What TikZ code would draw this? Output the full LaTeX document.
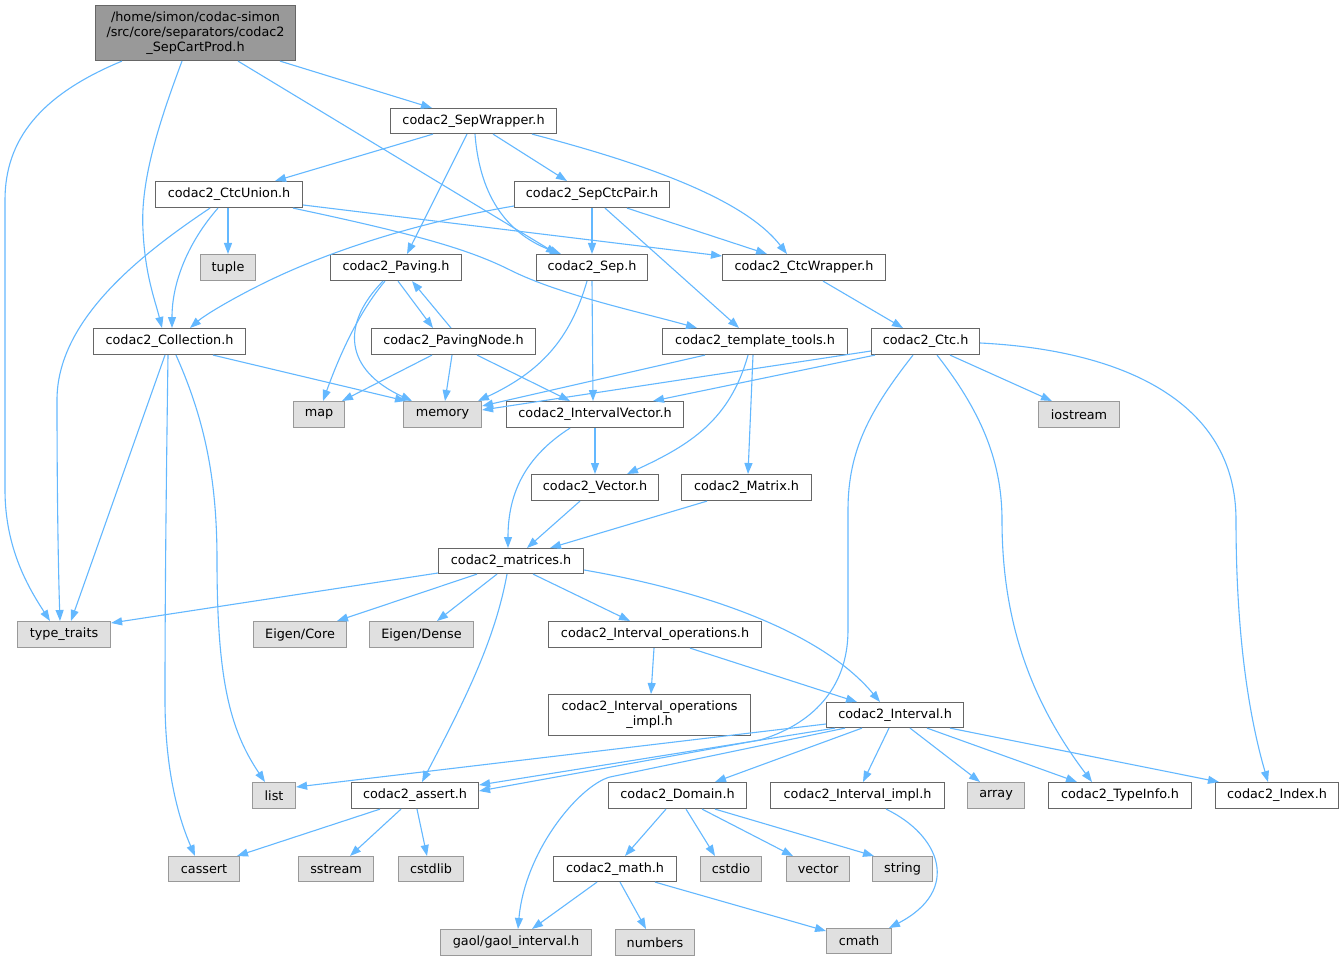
\documentclass[tikz,border=0pt]{standalone}
\usepackage{fontspec}
\setmainfont{DejaVu Sans}
\usetikzlibrary{arrows.meta}
\definecolor{edgec}{HTML}{63B8FF}
\definecolor{bord}{HTML}{666666}
\definecolor{gbord}{HTML}{999999}
\definecolor{gfill}{HTML}{E0E0E0}
\definecolor{rootfill}{HTML}{999999}
\begin{document}
\begin{tikzpicture}[x=1pt,y=-1pt,
  hdr/.style={draw=bord, fill=white, line width=1.1pt, inner sep=0pt, anchor=north west,
    minimum height=26pt, font=\fontsize{12.8}{15}\selectfont, text=black, align=center},
  sys/.style={hdr, draw=gbord, fill=gfill},
  rootbox/.style={hdr, draw=bord, fill=rootfill},
  lnk/.style={draw=edgec, line width=1.1pt, -{Triangle[length=11pt,width=8pt]}}]
\useasboundingbox (0,0) rectangle (1344,960);
\fill[white] (0,0) rectangle (1344,960);
% nodes
\node[rootbox, minimum width=200pt, minimum height=55pt] (root) at (95,5) {/home/simon/codac-simon\\/src/core/separators/codac2\\\_SepCartProd.h};
\node[hdr, minimum width=166pt, minimum height=25pt] (sepwrap) at (390,108) {codac2\_SepWrapper.h};
\node[hdr, minimum width=147pt] (ctcunion) at (155,181) {codac2\_CtcUnion.h};
\node[sys, minimum width=55pt] (tuple) at (200,254) {tuple};
\node[hdr, minimum width=155pt] (sepctc) at (514,181) {codac2\_SepCtcPair.h};
\node[hdr, minimum width=131pt] (paving) at (330,254) {codac2\_Paving.h};
\node[hdr, minimum width=111pt] (sep) at (536,254) {codac2\_Sep.h};
\node[hdr, minimum width=163pt] (ctcwrap) at (722,254) {codac2\_CtcWrapper.h};
\node[hdr, minimum width=152pt] (coll) at (93,328) {codac2\_Collection.h};
\node[hdr, minimum width=164pt] (pnode) at (371,328) {codac2\_PavingNode.h};
\node[hdr, minimum width=185pt] (tmpl) at (662,328) {codac2\_template\_tools.h};
\node[hdr, minimum width=108pt] (ctc) at (871,328) {codac2\_Ctc.h};
\node[sys, minimum width=51pt] (map) at (293,401) {map};
\node[sys, minimum width=78pt] (memory) at (403,401) {memory};
\node[hdr, minimum width=177pt] (ivec) at (506,401) {codac2\_IntervalVector.h};
\node[sys, minimum width=81pt] (iostream) at (1038,401) {iostream};
\node[hdr, minimum width=127pt] (vector) at (531,474) {codac2\_Vector.h};
\node[hdr, minimum width=130pt] (matrix) at (681,474) {codac2\_Matrix.h};
\node[hdr, minimum width=145pt, minimum height=25pt] (matrices) at (438,548) {codac2\_matrices.h};
\node[sys, minimum width=93pt] (ttraits) at (17,621) {type\_traits};
\node[sys, minimum width=93pt] (ecore) at (253,621) {Eigen/Core};
\node[sys, minimum width=104pt] (edense) at (369,621) {Eigen/Dense};
\node[hdr, minimum width=213pt] (iops) at (548,621) {codac2\_Interval\_operations.h};
\node[hdr, minimum width=202pt, minimum height=41pt] (iopsimpl) at (548,694) {codac2\_Interval\_operations\\\_impl.h};
\node[hdr, minimum width=137pt, minimum height=25pt] (interval) at (826,702) {codac2\_Interval.h};
\node[sys, minimum width=43pt] (list) at (252,782) {list};
\node[hdr, minimum width=127pt] (assert) at (351,782) {codac2\_assert.h};
\node[hdr, minimum width=138pt] (domain) at (608,782) {codac2\_Domain.h};
\node[hdr, minimum width=174pt] (iimpl) at (770,782) {codac2\_Interval\_impl.h};
\node[sys, minimum width=57pt] (array) at (967,782) {array};
\node[hdr, minimum width=143pt] (typeinfo) at (1048,782) {codac2\_TypeInfo.h};
\node[hdr, minimum width=123pt] (index) at (1215,782) {codac2\_Index.h};
\node[sys, minimum width=71pt, minimum height=25pt] (cassert) at (168,856) {cassert};
\node[sys, minimum width=75pt, minimum height=25pt] (sstream) at (298,856) {sstream};
\node[sys, minimum width=65pt, minimum height=25pt] (cstdlib) at (398,856) {cstdlib};
\node[hdr, minimum width=123pt, minimum height=25pt] (math) at (553,856) {codac2\_math.h};
\node[sys, minimum width=61pt, minimum height=25pt] (cstdio) at (700,856) {cstdio};
\node[sys, minimum width=63pt, minimum height=25pt] (stdvector) at (786,856) {vector};
\node[sys, minimum width=60pt, minimum height=25pt] (string) at (872,856) {string};
\node[sys, minimum width=151pt] (gaol) at (440,929) {gaol/gaol\_interval.h};
\node[sys, minimum width=79pt] (numbers) at (615,929) {numbers};
\node[sys, minimum width=65pt, minimum height=25pt] (cmath) at (826,928) {cmath};
% edges
\draw[lnk] ([xshift=27pt]root.south west) .. controls (40,95) and (5,140) .. (5,200) -- (5,490) .. controls (5,550) and (30,590) .. ([xshift=33pt]ttraits.north west);
\draw[lnk] ([xshift=87pt]root.south west) .. controls (160,120) and (140,180) .. (143,230) .. controls (145,275) and (155,300) .. ([xshift=69pt]coll.north west);
\draw[lnk] ([xshift=143pt]root.south west) -- ([xshift=21pt]sep.north west);
\draw[lnk] ([xshift=185pt]root.south west) -- ([xshift=42pt]sepwrap.north west);
\draw[lnk] ([xshift=43pt]sepwrap.south west) -- ([xshift=120pt]ctcunion.north west);
\draw[lnk] ([xshift=77pt]sepwrap.south west) -- ([xshift=77pt]paving.north west);
\draw[lnk] ([xshift=85pt]sepwrap.south west) .. controls (480,200) and (510,235) .. ([xshift=25pt]sep.north west);
\draw[lnk] ([xshift=103pt]sepwrap.south west) -- ([xshift=53pt]sepctc.north west);
\draw[lnk] ([xshift=142pt]sepwrap.south west) .. controls (650,165) and (745,200) .. ([xshift=65pt]ctcwrap.north west);
\draw[lnk] ([xshift=73pt]ctcunion.south west) -- ([xshift=28pt]tuple.north west);
\draw[lnk] ([xshift=63pt]ctcunion.south west) .. controls (190,240) and (172,280) .. ([xshift=79pt]coll.north west);
\draw[lnk] ([xshift=55pt]ctcunion.south west) .. controls (140,255) and (57,320) .. (57,400) .. controls (57,480) and (58,560) .. ([xshift=43pt]ttraits.north west);
\draw[lnk] ([yshift=-24pt]ctcunion.north east) -- ([yshift=-2pt]ctcwrap.north west);
\draw[lnk] ([xshift=138pt]ctcunion.south west) .. controls (420,235) and (470,250) .. (510,270) .. controls (560,295) and (640,312) .. ([xshift=35pt]tmpl.north west);
\draw[lnk] ([yshift=-25pt]sepctc.north west) .. controls (420,222) and (330,250) .. (260,285) .. controls (230,300) and (205,315) .. ([xshift=97pt]coll.north west);
\draw[lnk] ([xshift=78pt]sepctc.south west) -- ([xshift=56pt]sep.north west);
\draw[lnk] ([xshift=91pt]sepctc.south west) -- ([xshift=77pt]tmpl.north west);
\draw[lnk] ([xshift=113pt]sepctc.south west) -- ([xshift=45pt]ctcwrap.north west);
\draw[lnk] ([xshift=101pt]ctcwrap.south west) -- ([xshift=32pt]ctc.north west);
\draw[lnk] ([xshift=51pt]sep.south west) .. controls (570,340) and (540,372) .. ([xshift=75pt]memory.north west);
\draw[lnk] ([xshift=56pt]sep.south west) -- ([xshift=87pt]ivec.north west);
\draw[lnk] ([xshift=55pt]paving.south west) .. controls (365,305) and (345,340) .. ([xshift=30pt]map.north west);
\draw[lnk] ([xshift=53pt]paving.south west) .. controls (340,325) and (345,370) .. ([xshift=9pt]memory.north west);
\draw[lnk] ([xshift=68pt]paving.south west) -- ([xshift=62pt]pnode.north west);
\draw[lnk] ([xshift=80pt]pnode.north west) -- ([xshift=82pt]paving.south west);
\draw[lnk] ([xshift=61pt]pnode.south west) -- ([xshift=49pt]map.north west);
\draw[lnk] ([xshift=81pt]pnode.south west) -- ([xshift=42pt]memory.north west);
\draw[lnk] ([xshift=106pt]pnode.south west) -- ([xshift=64pt]ivec.north west);
\draw[lnk] ([xshift=120pt]coll.south west) -- ([xshift=3pt]memory.north west);
\draw[lnk] ([xshift=72pt]coll.south west) -- ([xshift=54pt]ttraits.north west);
\draw[lnk] ([xshift=75pt]coll.south west) .. controls (166,500) and (165,600) .. (165,700) .. controls (165,760) and (175,810) .. ([xshift=27pt]cassert.north west);
\draw[lnk] ([xshift=83pt]coll.south west) .. controls (205,420) and (217,480) .. (217,560) .. controls (217,680) and (230,730) .. ([xshift=13pt]list.north west);
\draw[lnk] ([xshift=43pt]tmpl.south west) -- ([yshift=-5pt]memory.north east);
\draw[lnk] ([xshift=86pt]tmpl.south west) .. controls (730,420) and (690,445) .. ([xshift=96pt]vector.north west);
\draw[lnk] ([xshift=91pt]tmpl.south west) -- ([xshift=67pt]matrix.north west);
\draw[lnk] ([yshift=-23pt]ctc.north west) -- ([yshift=-9pt]memory.north east);
\draw[lnk] ([xshift=4pt]ctc.south west) -- ([xshift=147pt]ivec.north west);
\draw[lnk] ([xshift=79pt]ctc.south west) -- ([xshift=14pt]iostream.north west);
\draw[lnk] ([yshift=-15pt]ctc.north east) .. controls (1120,350) and (1236,400) .. (1236,520) .. controls (1236,640) and (1250,720) .. ([xshift=53pt]index.north west);
\draw[lnk] ([xshift=66pt]ctc.south west) .. controls (980,410) and (1002,460) .. (1002,520) .. controls (1002,620) and (1030,700) .. ([xshift=44pt]typeinfo.north west);
\draw[lnk] ([xshift=42pt]ctc.south west) .. controls (870,410) and (848,450) .. (848,510) -- (848,630) .. controls (848,690) and (810,725) .. (760,740) -- ([yshift=-9pt]assert.north east);
\draw[lnk] ([yshift=-22pt]interval.north west) -- ([yshift=-5pt]list.north east);
\draw[lnk] ([xshift=9pt]interval.south west) -- ([yshift=-3pt]assert.north east);
\draw[lnk] ([xshift=19pt]interval.south west) -- (610,777) .. controls (580,785) and (525,850) .. ([xshift=78pt]gaol.north west);
\draw[lnk] ([xshift=36pt]interval.south west) -- ([xshift=107pt]domain.north west);
\draw[lnk] ([xshift=63pt]interval.south west) -- ([xshift=93pt]iimpl.north west);
\draw[lnk] ([xshift=84pt]interval.south west) -- ([xshift=13pt]array.north west);
\draw[lnk] ([xshift=101pt]interval.south west) -- ([xshift=29pt]typeinfo.north west);
\draw[lnk] ([xshift=124pt]interval.south west) -- ([xshift=4pt]index.north west);
\draw[lnk] ([xshift=106pt]iops.south west) -- ([xshift=103pt]iopsimpl.north west);
\draw[lnk] ([xshift=142pt]iops.south west) -- ([xshift=31pt]interval.north west);
\draw[lnk] ([yshift=-25pt]matrices.north west) -- ([yshift=-2pt]ttraits.north east);
\draw[lnk] ([xshift=39pt]matrices.south west) -- ([xshift=84pt]ecore.north west);
\draw[lnk] ([xshift=59pt]matrices.south west) -- ([xshift=68pt]edense.north west);
\draw[lnk] ([xshift=95pt]matrices.south west) -- ([xshift=82pt]iops.north west);
\draw[lnk] ([yshift=-22pt]matrices.north east) .. controls (700,590) and (820,630) .. ([xshift=54pt]interval.north west);
\draw[lnk] ([xshift=69pt]matrices.south west) .. controls (495,640) and (465,700) .. ([xshift=71pt]assert.north west);
\draw[lnk] ([xshift=64pt]ivec.south west) .. controls (520,460) and (508,500) .. ([xshift=70pt]matrices.north west);
\draw[lnk] ([xshift=89pt]ivec.south west) -- ([xshift=64pt]vector.north west);
\draw[lnk] ([xshift=49pt]vector.south west) -- ([xshift=89pt]matrices.north west);
\draw[lnk] ([xshift=26pt]matrix.south west) -- ([xshift=112pt]matrices.north west);
\draw[lnk] ([xshift=29pt]assert.south west) -- ([xshift=69pt]cassert.north west);
\draw[lnk] ([xshift=50pt]assert.south west) -- ([xshift=52pt]sstream.north west);
\draw[lnk] ([xshift=66pt]assert.south west) -- ([xshift=29pt]cstdlib.north west);
\draw[lnk] ([xshift=58pt]domain.south west) -- ([xshift=72pt]math.north west);
\draw[lnk] ([xshift=78pt]domain.south west) -- ([xshift=15pt]cstdio.north west);
\draw[lnk] ([xshift=94pt]domain.south west) -- ([xshift=7pt]stdvector.north west);
\draw[lnk] ([xshift=107pt]domain.south west) -- ([xshift=2pt]string.north west);
\draw[lnk] ([xshift=44pt]math.south west) -- ([xshift=92pt]gaol.north west);
\draw[lnk] ([xshift=67pt]math.south west) -- ([xshift=31pt]numbers.north west);
\draw[lnk] ([xshift=102pt]math.south west) -- ([yshift=-3pt]cmath.north west);
\draw[lnk] ([xshift=116pt]iimpl.south west) .. controls (940,835) and (962,890) .. ([xshift=63pt]cmath.north west);
\end{tikzpicture}
\end{document}
